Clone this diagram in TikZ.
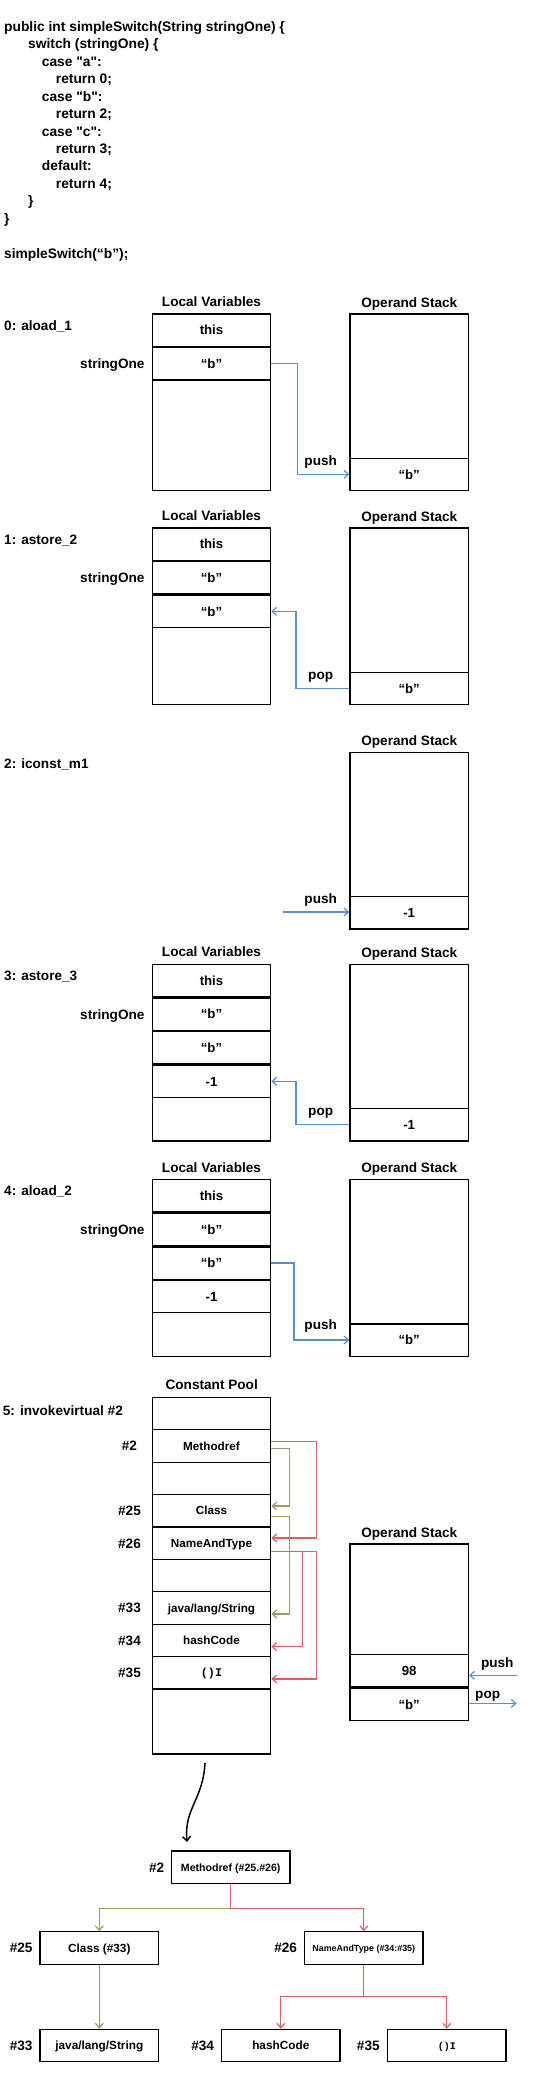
\documentclass[tikz,border=0pt]{standalone}
\usepackage{fontspec}
\setmainfont{Liberation Sans}
\newfontfamily\codefont{Liberation Sans}[Ligatures=TeXOff]
\newfontfamily\sigfont{Liberation Mono}
\usetikzlibrary{arrows.meta}
\usetikzlibrary{positioning}
\definecolor{flowblue}{HTML}{5B8FCB}
\definecolor{flowolive}{HTML}{A09866}
\definecolor{flowred}{HTML}{D9615E}
\tikzset{txt/.style={font=\bfseries\fontsize{13.6}{16}\selectfont,inner sep=0pt,text height=9.8pt,text depth=0pt},
         codeline/.style={font=\codefont\bfseries\fontsize{13.8}{16}\selectfont,inner sep=0pt,anchor=base west},
         stackbox/.style={draw,line width=1.3pt,minimum width=118.4pt,inner sep=0pt,anchor=north},
         slot/.style={stackbox,minimum height=32.3pt,font=\bfseries\fontsize{13.2}{16}\selectfont,text height=9.5pt,text depth=0pt},
         poolslot/.style={slot,minimum height=32.4pt,font=\bfseries\fontsize{11.7}{14}\selectfont,text height=8.4pt},
         leaf/.style={draw,line width=1.3pt,minimum width=118.6pt,minimum height=32.4pt,inner sep=0pt,font=\bfseries\fontsize{11.8}{14}\selectfont,text height=8.5pt,text depth=0pt},
         flow/.style={line width=1.2pt,-{Straight Barb[length=4.5pt,width=8pt]}},
         blueflow/.style={flow,flowblue},
         oliveflow/.style={flow,flowolive},
         redflow/.style={flow,flowred}}

\begin{document}
\begin{tikzpicture}[x=1pt,y=-1pt]
\useasboundingbox (0,0) rectangle (558,2083);
% source
\node[codeline] (code1) at (4,31.3) {public int simpleSwitch(String stringOne) \{};
\node[codeline] (code2) at (28,48.75) {switch (stringOne) \{};
\node[codeline] (code3) at (41.7,66.2) {case "a":};
\node[codeline] (code4) at (55.7,83.65) {return 0;};
\node[codeline] (code5) at (41.7,101.1) {case "b":};
\node[codeline] (code6) at (55.7,118.55) {return 2;};
\node[codeline] (code7) at (41.7,136) {case "c":};
\node[codeline] (code8) at (55.7,153.45) {return 3;};
\node[codeline] (code9) at (41.7,170.9) {default:};
\node[codeline] (code10) at (55.7,188.35) {return 4;};
\node[codeline] (code11) at (28,205.8) {\}};
\node[codeline] (code12) at (4,223.25) {\}};
\node[codeline] (call) at (4,258.15) {simpleSwitch(“b”);};

% 0: aload_1
\node[txt,anchor=west] (op0) at (4,326) {0: aload\_1};
\node[txt] (lvt0) at (211.5,301.6) {Local Variables};
\node[txt] (ost0) at (409.3,302.3) {Operand Stack};
\node[stackbox,minimum height=176.5pt] (lv0) at (211.5,313.3) {};
\node[slot] (lv0a) at (lv0.north) {this};
\node[slot] (lv0b) at (lv0a.south) {“b”};
\node[txt,left=7pt of lv0b] (var0) {stringOne};
\node[stackbox,minimum height=176.5pt] (os0) at (409.2,313.3) {};
\node[slot,anchor=south] (os0a) at (os0.south) {“b”};
\draw[blueflow] (lv0b.east) -- ++(26,0) |- (os0a.west);
\node[txt] (push0) at (320.7,460.7) {push};

% 1: astore_2
\node[txt,anchor=west] (op1) at (4,539.3) {1: astore\_2};
\node[txt] (lvt1) at (211.5,515.6) {Local Variables};
\node[txt] (ost1) at (409.3,516.3) {Operand Stack};
\node[stackbox,minimum height=176.5pt] (lv1) at (211.5,527.3) {};
\node[slot] (lv1a) at (lv1.north) {this};
\node[slot] (lv1b) at (lv1a.south) {“b”};
\node[slot] (lv1c) at (lv1b.south) {“b”};
\node[txt,left=7pt of lv1b] (var1) {stringOne};
\node[stackbox,minimum height=176.5pt] (os1) at (409.2,527.3) {};
\node[slot,anchor=south] (os1a) at (os1.south) {“b”};
\draw[blueflow] (os1a.west) -- ++(-53.3,0) |- (lv1c.east);
\node[txt] (pop1) at (320.7,674.3) {pop};

% 2: iconst_m1
\node[txt,anchor=west] (op2) at (4,764) {2: iconst\_m1};
\node[txt] (ost2) at (409.3,740.7) {Operand Stack};
\node[stackbox,minimum height=176.5pt] (os2) at (409.2,751.7) {};
\node[slot,anchor=south] (os2a) at (os2.south) {-1};
\coordinate (src2) at (283.3,912);
\draw[blueflow] (src2) -- (src2 -| os2a.west);
\node[txt] (push2) at (320.7,898.3) {push};

% 3: astore_3
\node[txt,anchor=west] (op3) at (4,976) {3: astore\_3};
\node[txt] (lvt3) at (211.5,952) {Local Variables};
\node[txt] (ost3) at (409.3,952.7) {Operand Stack};
\node[stackbox,minimum height=176.5pt] (lv3) at (211.5,963.7) {};
\node[slot] (lv3a) at (lv3.north) {this};
\node[slot] (lv3b) at (lv3a.south) {“b”};
\node[slot] (lv3c) at (lv3b.south) {“b”};
\node[slot] (lv3d) at (lv3c.south) {-1};
\node[txt,left=7pt of lv3b] (var3) {stringOne};
\node[stackbox,minimum height=176.5pt] (os3) at (409.2,963.7) {};
\node[slot,anchor=south] (os3a) at (os3.south) {-1};
\draw[blueflow] (os3a.west) -- ++(-53.3,0) |- (lv3d.east);
\node[txt] (pop3) at (320.7,1110.7) {pop};

% 4: aload_2
\node[txt,anchor=west] (op4) at (4,1191) {4: aload\_2};
\node[txt] (lvt4) at (211.5,1167.3) {Local Variables};
\node[txt] (ost4) at (409.3,1168) {Operand Stack};
\node[stackbox,minimum height=176.5pt] (lv4) at (211.5,1179) {};
\node[slot] (lv4a) at (lv4.north) {this};
\node[slot] (lv4b) at (lv4a.south) {“b”};
\node[slot] (lv4c) at (lv4b.south) {“b”};
\node[slot] (lv4d) at (lv4c.south) {-1};
\node[txt,left=7pt of lv4b] (var4) {stringOne};
\node[stackbox,minimum height=176.5pt] (os4) at (409.2,1179) {};
\node[slot,anchor=south] (os4a) at (os4.south) {“b”};
\draw[blueflow] (lv4c.east) -- ++(22.6,0) |- (os4a.west);
\node[txt] (push4) at (320.7,1325) {push};

% 5: invokevirtual #2
\node[txt,anchor=west] (op5) at (2.7,1411) {5: invokevirtual \#2};
\node[txt] (cpt) at (211.7,1385) {Constant Pool};
\node[stackbox,minimum height=356.7pt] (cp) at (211.5,1396.7) {};
\foreach \entry [count=\i from 0] in {{},Methodref,{},Class,NameAndType,{},{java/lang/String},hashCode,{\sigfont ()I}}
  \node[poolslot] (cp\i) at (211.5,{1396.7+32.4*\i}) {\entry};
\node[txt] (idx2) at ([xshift=-82pt]cp1.center) {\#2};
\node[txt] (idx25) at ([xshift=-82pt]cp3.center) {\#25};
\node[txt] (idx26) at ([xshift=-82pt]cp4.center) {\#26};
\node[txt] (idx33) at ([xshift=-82pt]cp6.center) {\#33};
\node[txt] (idx34) at ([xshift=-82pt]cp7.center) {\#34};
\node[txt] (idx35) at ([xshift=-82pt]cp8.center) {\#35};
\draw[oliveflow] ([yshift=-2.7pt]cp1.east) -- ++(18,0) |- ([yshift=4.8pt]cp3.east);
\draw[oliveflow] ([yshift=-5.9pt]cp3.east) -- ++(18,0) |- ([yshift=-6pt]cp6.east);
\draw[redflow] ([yshift=4.6pt]cp1.east) -- ++(45.3,0) |- ([yshift=5.2pt]cp4.east);
\draw[redflow] ([yshift=-8pt]cp4.east) -- ++(31.3,0) |- ([yshift=-6.3pt]cp7.east);
\draw[redflow] ([yshift=-8pt]cp4.east) -- ++(45.3,0) |- ([yshift=-6.2pt]cp8.east);

\node[txt] (ost5) at (409.3,1532.3) {Operand Stack};
\node[stackbox,minimum height=176.5pt] (os5) at (409.2,1543.3) {};
\node[slot,anchor=south] (os5b) at (os5.south) {“b”};
\node[slot,anchor=south] (os5a) at (os5b.north) {98};
\coordinate (in5) at (517.3,1675.3);
\coordinate (out5) at (516.7,1703.3);
\draw[blueflow] (in5) -- (in5 -| os5a.east);
\draw[blueflow] (out5 -| os5b.east) -- (out5);
\node[txt] (push5) at (497.3,1662.3) {push};
\node[txt] (pop5) at (487.7,1693.3) {pop};

% resolving #2
\coordinate (curvetop) at (205,1763);
\coordinate (curvebot) at (187,1842);
\draw[line width=1.5pt,-{Straight Barb[length=4.5pt,width=8pt]}] (curvetop) .. controls (203,1800) and (184,1808) .. (curvebot);
\node[leaf,font=\bfseries\fontsize{10.6}{12}\selectfont,text height=7.7pt] (mref) at (230.7,1867.2) {Methodref (\#25.\#26)};
\node[txt,left=6.3pt of mref] (tidx2) {\#2};
\node[leaf] (cls) at (99.3,1948) {Class (\#33)};
\node[txt,left=6.7pt of cls] (tidx25) {\#25};
\node[leaf,font=\bfseries\fontsize{8.9}{11}\selectfont,text height=6.4pt] (nat) at (363.8,1948) {NameAndType (\#34:\#35)};
\node[txt,left=6.6pt of nat] (tidx26) {\#26};
\node[leaf] (jls) at (99.3,2045.5) {java/lang/String};
\node[txt,left=6.7pt of jls] (tidx33) {\#33};
\node[leaf] (hash) at (280.8,2045.5) {hashCode};
\node[txt,left=6.7pt of hash] (tidx34) {\#34};
\node[leaf,font=\bfseries\sigfont\fontsize{10}{12}\selectfont] (sig) at (446.8,2045.5) {()I};
\node[txt,left=7pt of sig] (tidx35) {\#35};
\coordinate (split) at ([yshift=-24.4pt]mref.south);
\coordinate (split2) at ([yshift=-31.7pt]nat.south);
\draw[oliveflow] (split) -| (cls.north);
\draw[redflow] (mref.south) -- (split) -| (nat.north);
\draw[oliveflow] (cls.south) -- (jls.north);
\draw[redflow] (nat.south) -- (split2) -| (hash.north);
\draw[redflow] (split2) -| (sig.north);
\end{tikzpicture}
\end{document}
